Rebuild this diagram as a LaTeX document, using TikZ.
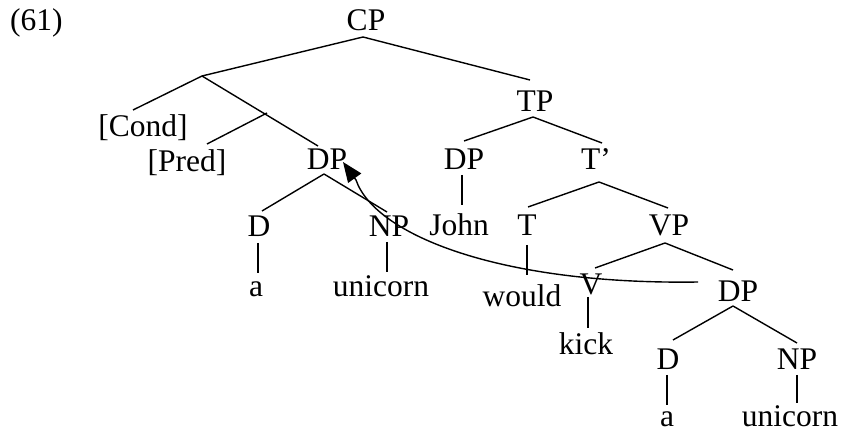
\documentclass[tikz,border=0pt]{standalone}
\usepackage{fontspec}
\setmainfont{Liberation Serif}
\usetikzlibrary{arrows.meta}
\begin{document}
\begin{tikzpicture}[x=1pt,y=-1pt,
  lbl/.style={anchor=base,inner sep=0pt,font=\fontsize{31.5}{36}\selectfont},
  br/.style={line width=1.4pt},
  mv/.style={line width=1.4pt,-{Triangle[length=20pt,width=16pt]}}]
\useasboundingbox (0,0) rectangle (841,435);
% labels
\node[lbl,anchor=base west] (ex) at (10,31) {(61)};
\node[lbl] (CP) at (366,31) {CP};
\node[lbl] (TP) at (535,112) {TP};
\node[lbl] (cond) at (143,137) {[Cond]};
\node[lbl] (pred) at (187,172) {[Pred]};
\node[lbl] (DPa) at (327,170) {DP};
\node[lbl] (DPj) at (464,170) {DP};
\node[lbl] (Tbar) at (596,170) {T’};
\node[lbl] (Da) at (259,237) {D};
\node[lbl] (NPa) at (389,237) {NP};
\node[lbl] (john) at (459,236) {John};
\node[lbl] (T) at (527,236) {T};
\node[lbl] (VP) at (669,236) {VP};
\node[lbl] (aa) at (256,297) {a};
\node[lbl] (unia) at (381,297) {unicorn};
\node[lbl] (would) at (522,307) {would};
\node[lbl] (V) at (591,295) {V};
\node[lbl] (DPb) at (738,302) {DP};
\node[lbl] (kick) at (586,355) {kick};
\node[lbl] (Db) at (668,370) {D};
\node[lbl] (NPb) at (797,370) {NP};
\node[lbl] (ab) at (667,427) {a};
\node[lbl] (unib) at (790,427) {unicorn};
% branch points
\coordinate (cpB) at (363,37);
\coordinate (A) at (202,76);
\coordinate (B) at (267,113);
\coordinate (tpT) at (530,80);
\coordinate (condT) at (133,110);
\coordinate (predT) at (207,144);
\coordinate (dpaT) at (318,146);
\coordinate (dpaB) at (324,174);
\coordinate (daT) at (262,211);
\coordinate (npaT) at (387,212);
\coordinate (daB) at (258,243);
\coordinate (aaT) at (258,273);
\coordinate (npaB) at (387,242);
\coordinate (uniaT) at (387,272);
\coordinate (tpB) at (533,117);
\coordinate (dpjT) at (464,141);
\coordinate (tbarT) at (602,143);
\coordinate (dpjB) at (462,175);
\coordinate (johnT) at (462,205);
\coordinate (tbarB) at (599,182);
\coordinate (tT) at (528,207);
\coordinate (vpT) at (668,208);
\coordinate (tB) at (527,245);
\coordinate (wouldT) at (527,275);
\coordinate (vpB) at (665,243);
\coordinate (vT) at (595,268);
\coordinate (dpbT) at (733,270);
\coordinate (vB) at (588,297);
\coordinate (kickT) at (588,328);
\coordinate (dpbB) at (733,306);
\coordinate (dbT) at (673,340);
\coordinate (npbT) at (797,343);
\coordinate (dbB) at (667,375);
\coordinate (abT) at (667,405);
\coordinate (npbB) at (797,375);
\coordinate (unibT) at (797,403);
\coordinate (trace) at (698,282);
\coordinate (bend) at (356,180);
\coordinate (landing) at (343,162);
% branches
\draw[br] (cpB) -- (A);
\draw[br] (cpB) -- (tpT);
\draw[br] (A) -- (condT);
\draw[br] (A) -- (dpaT);
\draw[br] (B) -- (predT);
\draw[br] (dpaB) -- (daT);
\draw[br] (dpaB) -- (npaT);
\draw[br] (daB) -- (aaT);
\draw[br] (npaB) -- (uniaT);
\draw[br] (tpB) -- (dpjT);
\draw[br] (tpB) -- (tbarT);
\draw[br] (dpjB) -- (johnT);
\draw[br] (tbarB) -- (tT);
\draw[br] (tbarB) -- (vpT);
\draw[br] (tB) -- (wouldT);
\draw[br] (vpB) -- (vT);
\draw[br] (vpB) -- (dpbT);
\draw[br] (vB) -- (kickT);
\draw[br] (dpbB) -- (dbT);
\draw[br] (dpbB) -- (npbT);
\draw[br] (dbB) -- (abT);
\draw[br] (npbB) -- (unibT);
% movement arrow
\draw[mv] (trace) .. controls (500,285) and (375,235) .. (bend) -- (landing);
\end{tikzpicture}
\end{document}
